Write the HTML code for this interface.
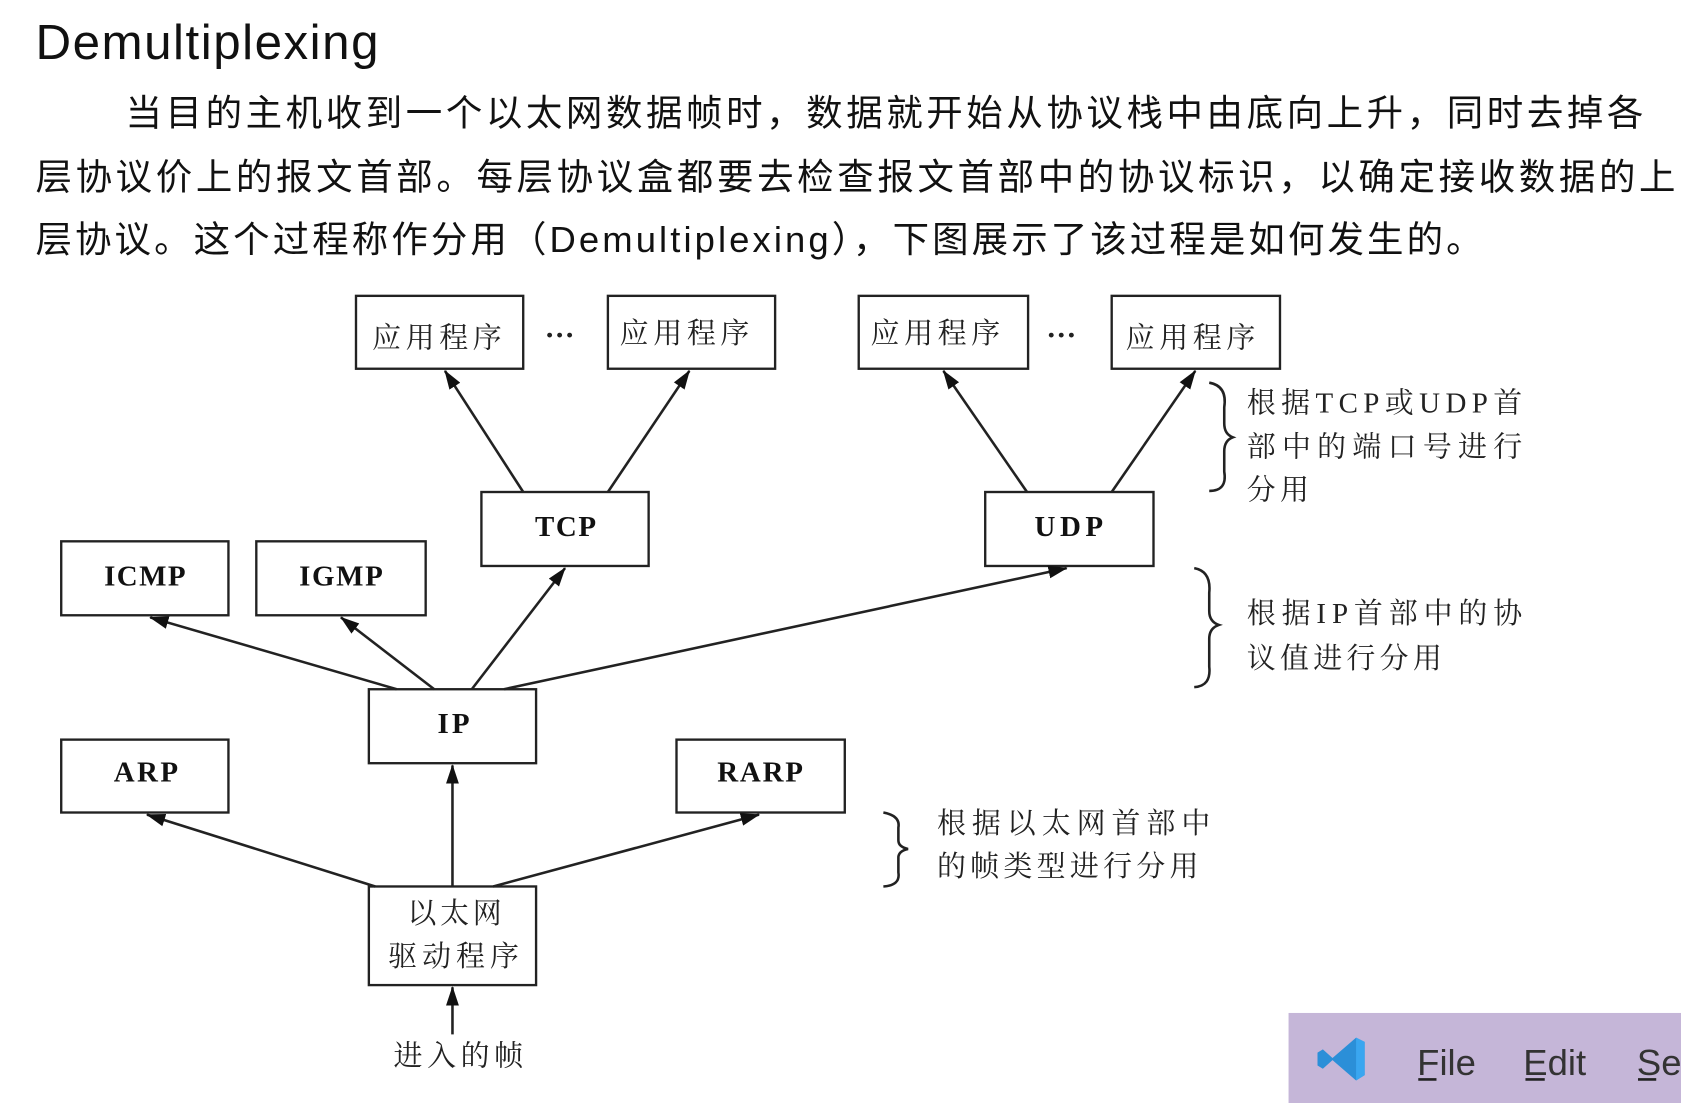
<!DOCTYPE html>
<html><head><meta charset="utf-8"><style>
html,body{margin:0;padding:0;background:#fff;width:1681px;height:1103px;overflow:hidden}
svg{display:block}
.p{font-family:"Liberation Sans","Noto Sans CJK SC",sans-serif;font-size:34px;fill:#111}
.d{font-family:"Liberation Serif","Noto Serif CJK SC",serif;fill:#222}
.b{font-family:"Liberation Serif","Noto Serif CJK SC",serif;font-weight:bold;font-size:27px;fill:#111}
rect{fill:#fff;stroke:#222;stroke-width:2.2}
line{stroke:#222;stroke-width:2.4}
.br{fill:none;stroke:#222;stroke-width:2.4}
</style></head><body>
<svg width="1681" height="1103" viewBox="0 0 1568 1029">
<defs>
<marker id="m" markerWidth="18" markerHeight="14" refX="17" refY="7" orient="auto" markerUnits="userSpaceOnUse"><path d="M0,1 L18,7 L0,13 z" fill="#111"/></marker></defs>
<text x="33" y="55" font-family="Liberation Sans,sans-serif" font-size="46" fill="#111" textLength="320">Demultiplexing</text>
<text class="p" x="117" y="117" textLength="1416">当目的主机收到一个以太网数据帧时，数据就开始从协议栈中由底向上升，同时去掉各</text>
<text class="p" x="33" y="177" textLength="1530">层协议价上的报文首部。每层协议盒都要去检查报文首部中的协议标识，以确定接收数据的上</text>
<text class="p" x="33" y="235" textLength="1350">层协议。这个过程称作分用（Demultiplexing），下图展示了该过程是如何发生的。</text>

<g>
<rect x="332" y="276" width="156" height="68"/><rect x="567" y="276" width="156" height="68"/>
<rect x="801" y="276" width="158" height="68"/><rect x="1037" y="276" width="157" height="68"/>
<rect x="449" y="459" width="156" height="69"/><rect x="919" y="459" width="157" height="69"/>
<rect x="57" y="505" width="156" height="69"/><rect x="239" y="505" width="158" height="69"/>
<rect x="344" y="643" width="156" height="69"/>
<rect x="57" y="690" width="156" height="68"/><rect x="631" y="690" width="157" height="68"/>
<rect x="344" y="827" width="156" height="92"/>
</g>
<g class="d" font-size="27">
<text x="347" y="324" textLength="121">应用程序</text><text x="578" y="320" textLength="121">应用程序</text>
<text x="812" y="320" textLength="121">应用程序</text><text x="1050" y="324" textLength="121">应用程序</text>
<text x="380" y="861" textLength="88">以太网</text><text x="362" y="901" textLength="122">驱动程序</text>
<text x="367" y="994" textLength="121">进入的帧</text>
</g>
<text x="508" y="322" font-size="28" font-weight="bold" fill="#222">···</text>
<text x="976" y="322" font-size="28" font-weight="bold" fill="#222">···</text>
<g class="b">
<text x="499" y="500" textLength="57">TCP</text><text x="965" y="500" textLength="64">UDP</text>
<text x="97" y="546" textLength="76">ICMP</text><text x="279" y="546" textLength="78">IGMP</text>
<text x="408" y="684" textLength="30">IP</text>
<text x="106" y="729" textLength="60">ARP</text><text x="669" y="729" textLength="80">RARP</text>
</g>
<g marker-end="url(#m)">
<line x1="488" y1="459" x2="415" y2="346"/><line x1="567" y1="459" x2="643" y2="346"/>
<line x1="958" y1="459" x2="880" y2="346"/><line x1="1037" y1="459" x2="1115" y2="346"/>
<line x1="370" y1="643" x2="140" y2="576"/><line x1="405" y1="643" x2="318" y2="576"/>
<line x1="440" y1="643" x2="527" y2="530"/><line x1="470" y1="643" x2="995" y2="530"/>
<line x1="422" y1="827" x2="422" y2="714"/><line x1="350" y1="827" x2="137" y2="760"/>
<line x1="460" y1="827" x2="708" y2="760"/><line x1="422" y1="965" x2="422" y2="921"/>
</g>
<path class="br" d="M1128,357 Q1145,360 1142,380 L1142,395 Q1142,405 1150,408 Q1142,411 1142,421 L1142,440 Q1145,458 1128,458"/>
<path class="br" d="M1114,530 Q1130,533 1128,553 L1128,570 Q1128,580 1137,583 Q1128,586 1128,596 L1128,622 Q1130,640 1114,641"/>
<path class="br" d="M824,758 Q840,761 838,772 L838,784 Q838,790 847,792 Q838,794 838,800 L838,814 Q840,826 824,827"/>
<g class="d" font-size="27">
<text x="1163" y="385" textLength="257">根据TCP或UDP首</text>
<text x="1163" y="426" textLength="257">部中的端口号进行</text>
<text x="1163" y="466" textLength="58">分用</text>
<text x="1163" y="581" textLength="257">根据IP首部中的协</text>
<text x="1163" y="623" textLength="182">议值进行分用</text>
<text x="874" y="777" textLength="255">根据以太网首部中</text>
<text x="874" y="817" textLength="244">的帧类型进行分用</text>
</g>
<rect x="1202" y="945" width="370" height="90" style="fill:#c5b6d8;stroke:none"/>
<path d="M1265,968 L1273,972 L1273,1003 L1265,1008 L1243,989 L1234,997 L1229,994 L1229,982 L1234,979 L1243,987 Z" fill="#2b8fd8"/>
<path d="M1265,968 L1273,972 L1273,1003 L1265,1008 Z" fill="#3aa6f0"/>
<g font-family="Liberation Sans,sans-serif" font-size="34" fill="#333">
<text x="1322" y="1003">File</text><text x="1421" y="1003">Edit</text><text x="1527" y="1003">Se</text>
</g>
<g stroke="#333" stroke-width="2"><line x1="1323" y1="1007" x2="1340" y2="1007"/><line x1="1423" y1="1007" x2="1441" y2="1007"/><line x1="1528" y1="1007" x2="1545" y2="1007"/></g>
</svg>
</body></html>
